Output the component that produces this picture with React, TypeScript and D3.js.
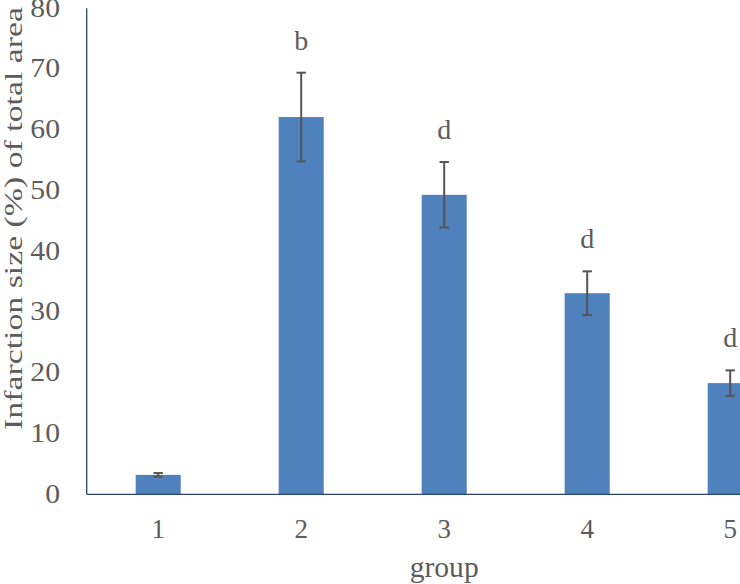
import { useMemo } from "react";
import { range, scaleBand, scaleLinear } from "d3";

const WIDTH = 740;
const HEIGHT = 584;
// the plot runs past the right edge of the picture, as in the reference
const MARGIN = { top: 8.3, left: 86.7, plotRight: 801.7, bottom: 494.3 };

const groups = ["1", "2", "3", "4", "5"];
const means = [3.2, 62.1, 49.3, 33.1, 18.3];
const errors = [0.3, 7.3, 5.4, 3.6, 2.1];
const letters = ["", "b", "d", "d", "d"];
const yTicks = range(0, 90, 10);

const TEXT = "#5c5c5c";
const FONT = "Liberation Serif";

export default function App() {
  const x = useMemo(
    () => scaleBand<string>().domain(groups).range([MARGIN.left, MARGIN.plotRight]).paddingInner(0.685).paddingOuter(0.3425),
    []
  );
  const y = useMemo(() => scaleLinear().domain([0, 80]).range([MARGIN.bottom, MARGIN.top]), []);

  return (
    <svg
      width={WIDTH}
      height={HEIGHT}
      viewBox={`0 0 ${WIDTH} ${HEIGHT}`}
      style={{ position: "absolute", left: 0, top: 0, background: "#fff", fontFamily: FONT }}
    >
      {yTicks.map((t) => (
        <text
          key={t}
          transform={`translate(60, ${y(t)}) scale(1.08, 1)`}
          dy="0.3em"
          textAnchor="end"
          fontSize={27.5}
          fill={TEXT}
        >
          {t}
        </text>
      ))}
      <text
        transform={`translate(21.5, 218.5) rotate(-90)`}
        textAnchor="middle"
        fontSize={25}
        fill={TEXT}
        textLength={423}
        lengthAdjust="spacingAndGlyphs"
      >
        Infarction size (%) of total area
      </text>

      {groups.map((g, i) => {
        const cx = (x(g) ?? 0) + x.bandwidth() / 2;
        const top = y(means[i] + errors[i]);
        const bottom = y(means[i] - errors[i]);
        return (
          <g key={g}>
            <rect x={x(g)} y={y(means[i])} width={x.bandwidth()} height={y(0) - y(means[i])} fill="#4F81BD" />
            <line x1={cx} x2={cx} y1={top} y2={bottom} stroke="#555" strokeWidth={2} />
            <line x1={cx - 4.7} x2={cx + 4.7} y1={top} y2={top} stroke="#555" strokeWidth={2} />
            <line x1={cx - 4.7} x2={cx + 4.7} y1={bottom} y2={bottom} stroke="#555" strokeWidth={2} />
            {letters[i] ? (
              <text x={cx} y={top - 23} textAnchor="middle" fontSize={28} fill={TEXT}>
                {letters[i]}
              </text>
            ) : null}
            <text x={cx} y={537.7} textAnchor="middle" fontSize={27} fill={TEXT}>
              {g}
            </text>
          </g>
        );
      })}

      <line x1={MARGIN.left} x2={MARGIN.left} y1={MARGIN.top} y2={MARGIN.bottom} stroke="#2B4468" strokeWidth={1.3} />
      <line x1={MARGIN.left} x2={MARGIN.plotRight} y1={MARGIN.bottom} y2={MARGIN.bottom} stroke="#2B4468" strokeWidth={1.3} />

      <text
        x={(MARGIN.left + MARGIN.plotRight) / 2}
        y={576.7}
        textAnchor="middle"
        fontSize={29.5}
        fill={TEXT}
        textLength={69}
        lengthAdjust="spacingAndGlyphs"
      >
        group
      </text>
    </svg>
  );
}
